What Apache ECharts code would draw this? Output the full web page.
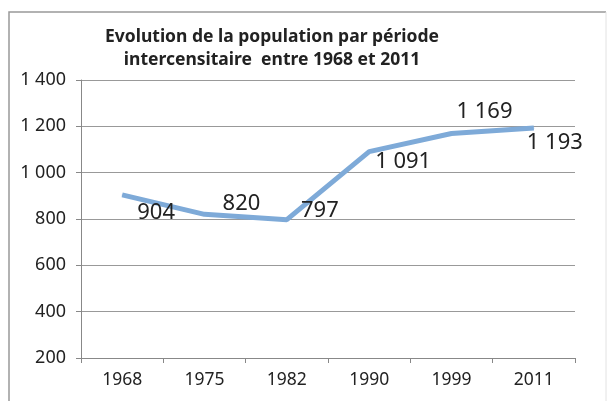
<!DOCTYPE html>
<html>
<head>
<meta charset="utf-8">
<script src="https://cdn.jsdelivr.net/npm/echarts@6/dist/echarts.min.js"></script>
<style>
  html, body { margin: 0; padding: 0; background: #fff; }
  #chart { width: 609px; height: 401px; }
</style>
</head>
<body>
<div id="chart"></div>
<script>
// données
const years = ["1968", "1975", "1982", "1990", "1999", "2011"];
const population = [904, 820, 797, 1091, 1169, 1193];
const yTicks = [200, 400, 600, 800, 1000, 1200, 1400];

// décalage des étiquettes (comme dans le graphique Excel)
const labelOffsets = [[34, 18], [37, -11], [33, -9], [34, 10], [33, -22], [21, 15]];

const fmt = (v) => String(v).replace(/\B(?=(\d{3})+(?!\d))/g, " ");
const font = "Noto Sans";

const chart = echarts.init(document.getElementById("chart"));
const option = {
  backgroundColor: "#fff",
  animation: false,
  title: {
    text: "Evolution de la population par période\nintercensitaire  entre 1968 et 2011",
    left: 267,
    top: 21,
    textAlign: "center",
    textStyle: {
      fontFamily: font,
      fontSize: 17.5,
      fontWeight: "bold",
      color: "#222",
      lineHeight: 23,
    },
  },
  graphic: [
    {
      type: "polyline",
      shape: { points: [[9, 401], [9, 12], [606, 12]] },
      style: { stroke: "#999", lineWidth: 1.5, fill: null },
    },
    {
      type: "line",
      shape: { x1: 606, y1: 12, x2: 606, y2: 401 },
      style: { stroke: "#e2e2e2", lineWidth: 1 },
    },
  ],
  grid: { left: 81, right: 34, top: 80, bottom: 43 },
  xAxis: {
    type: "category",
    data: years,
    boundaryGap: true,
    axisLine: { show: true, lineStyle: { color: "#888", width: 1 } },
    axisTick: { show: true, length: 5, lineStyle: { color: "#888" } },
    axisLabel: { fontFamily: font, fontSize: 17.5, color: "#222", margin: 13 },
    splitLine: { show: false },
  },
  yAxis: {
    type: "value",
    min: yTicks[0],
    max: yTicks[yTicks.length - 1],
    interval: 200,
    axisLine: { show: true, lineStyle: { color: "#888", width: 1 } },
    axisTick: { show: true, length: 5, lineStyle: { color: "#888" } },
    axisLabel: { fontFamily: font, fontSize: 18, color: "#222", margin: 15, formatter: fmt },
    splitLine: { show: true, lineStyle: { color: "#999", width: 1 } },
  },
  series: [
    {
      type: "line",
      data: population.map((v, i) => ({
        value: v,
        label: { offset: labelOffsets[i] },
      })),
      symbol: "circle",
      symbolSize: 1,
      itemStyle: { color: "#7eaad8" },
      lineStyle: { color: "#7eaad8", width: 5 },
      label: {
        show: true,
        position: "inside",
        fontFamily: font,
        fontSize: 22,
        color: "#222",
        formatter: (p) => fmt(p.value),
      },
    },
  ],
};
chart.setOption(option);
</script>
</body>
</html>
